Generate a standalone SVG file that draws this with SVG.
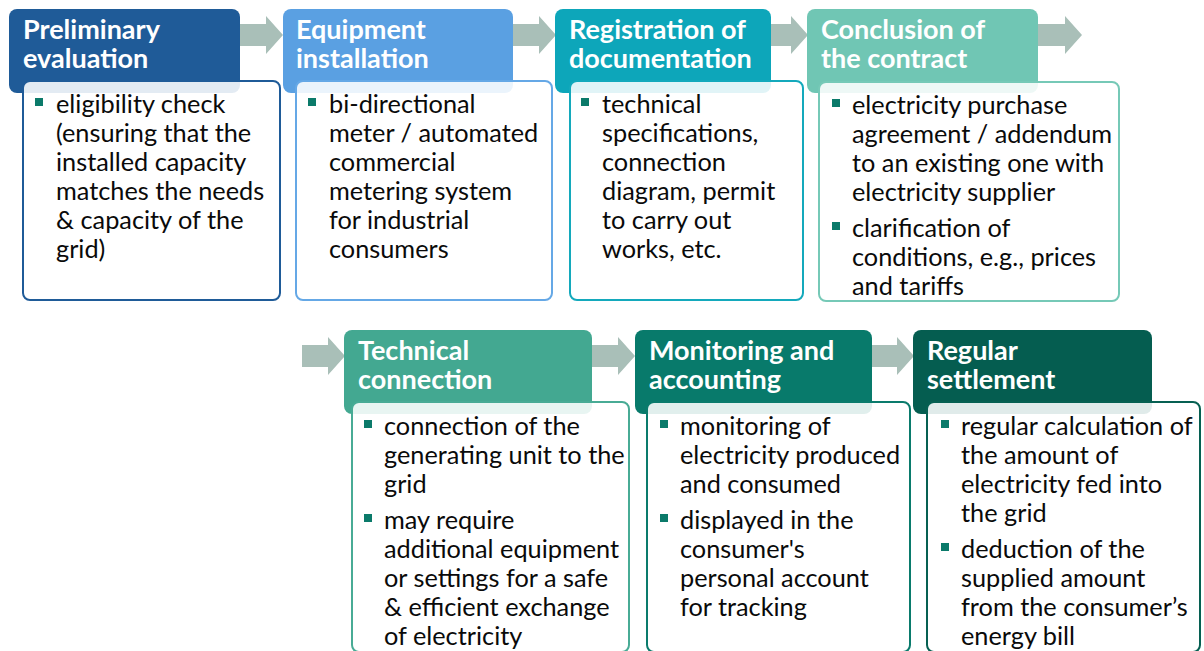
<svg xmlns="http://www.w3.org/2000/svg" width="1204" height="651" viewBox="0 0 1204 651">
  <defs>
    <style>
      .hd { stroke: none; }
      .body { fill: #ffffff; fill-opacity: 0.88; stroke-width: 2; }
      .ht { font-family: Lato, "Open Sans", sans-serif; font-weight: 700; font-size: 27px; fill: #ffffff; }
      .bt { font-family: Lato, "Open Sans", sans-serif; font-size: 25.3px; fill: #0a0a0a; }
      .bl { fill: #0b7a6a; }
      .arr { fill: #a9bfb8; }
    </style>
  </defs>
  <rect width="1204" height="651" fill="#ffffff"/>

  <!-- process arrows between the stages -->
  <g id="connectors">
    <path class="arr" d="M240 24 H266 V16 L283 35 L266 54 V46 H240 Z"/>
    <path class="arr" d="M513 24 H539 V16 L556 35 L539 54 V46 H513 Z"/>
    <path class="arr" d="M771 24 H791 V16 L808 35 L791 54 V46 H771 Z"/>
    <path class="arr" d="M1038 24 H1065 V16 L1082 35 L1065 54 V46 H1038 Z"/>
    <path class="arr" d="M302 345 H328 V337 L345 356 L328 375 V367 H302 Z"/>
    <path class="arr" d="M592 345 H618 V337 L635 356 L618 375 V367 H592 Z"/>
    <path class="arr" d="M872 345 H897 V337 L914 356 L897 375 V367 H872 Z"/>
  </g>

  <!-- stage 1 -->
  <g id="preliminary-evaluation">
    <rect class="hd" x="9" y="9" width="231" height="84" rx="8" fill="#1f5b98"/>
    <text class="ht" x="23" y="39">Preliminary</text>
    <text class="ht" x="23" y="68">evaluation</text>
    <rect class="body" x="23" y="81" width="257" height="219" rx="7" stroke="#1f5b98"/>
    <rect class="bl" x="35" y="98" width="8" height="8"/>
    <text class="bt" x="56" y="113">eligibility check</text>
    <text class="bt" x="56" y="142">(ensuring that the</text>
    <text class="bt" x="56" y="171">installed capacity</text>
    <text class="bt" x="56" y="200">matches the needs</text>
    <text class="bt" x="56" y="229">&amp; capacity of the</text>
    <text class="bt" x="56" y="258">grid)</text>
  </g>

  <!-- stage 2 -->
  <g id="equipment-installation">
    <rect class="hd" x="283" y="9" width="230" height="84" rx="8" fill="#5aa0e2"/>
    <text class="ht" x="296" y="39">Equipment</text>
    <text class="ht" x="296" y="68">installation</text>
    <rect class="body" x="296" y="81" width="256" height="219" rx="7" stroke="#65a8e6"/>
    <rect class="bl" x="308" y="98" width="8" height="8"/>
    <text class="bt" x="329" y="113">bi-directional</text>
    <text class="bt" x="329" y="142">meter / automated</text>
    <text class="bt" x="329" y="171">commercial</text>
    <text class="bt" x="329" y="200">metering system</text>
    <text class="bt" x="329" y="229">for industrial</text>
    <text class="bt" x="329" y="258">consumers</text>
  </g>

  <!-- stage 3 -->
  <g id="registration-of-documentation">
    <rect class="hd" x="555" y="9" width="216" height="84" rx="8" fill="#0da6ba"/>
    <text class="ht" x="569" y="39">Registration of</text>
    <text class="ht" x="569" y="68">documentation</text>
    <rect class="body" x="570" y="81" width="233" height="219" rx="7" stroke="#14a9bc"/>
    <rect class="bl" x="581" y="98" width="8" height="8"/>
    <text class="bt" x="602" y="113">technical</text>
    <text class="bt" x="602" y="142">specifications,</text>
    <text class="bt" x="602" y="171">connection</text>
    <text class="bt" x="602" y="200">diagram, permit</text>
    <text class="bt" x="602" y="229">to carry out</text>
    <text class="bt" x="602" y="258">works, etc.</text>
  </g>

  <!-- stage 4 -->
  <g id="conclusion-of-the-contract">
    <rect class="hd" x="807" y="9" width="231" height="84" rx="8" fill="#70c6b4"/>
    <text class="ht" x="821" y="39">Conclusion of</text>
    <text class="ht" x="821" y="68">the contract</text>
    <rect class="body" x="819" y="82" width="300" height="219" rx="7" stroke="#76c9b7"/>
    <rect class="bl" x="832" y="99" width="8" height="8"/>
    <text class="bt" x="852" y="114">electricity purchase</text>
    <text class="bt" x="852" y="143">agreement / addendum</text>
    <text class="bt" x="852" y="172">to an existing one with</text>
    <text class="bt" x="852" y="201">electricity supplier</text>
    <rect class="bl" x="832" y="222" width="8" height="8"/>
    <text class="bt" x="852" y="237">clarification of</text>
    <text class="bt" x="852" y="266">conditions, e.g., prices</text>
    <text class="bt" x="852" y="295">and tariffs</text>
  </g>

  <!-- stage 5 -->
  <g id="technical-connection">
    <rect class="hd" x="344" y="330" width="248" height="84" rx="8" fill="#43a891"/>
    <text class="ht" x="358" y="360">Technical</text>
    <text class="ht" x="358" y="389">connection</text>
    <rect class="body" x="352" y="402" width="277" height="250" rx="7" stroke="#48ab95"/>
    <rect class="bl" x="364" y="420" width="8" height="8"/>
    <text class="bt" x="384" y="435">connection of the</text>
    <text class="bt" x="384" y="464">generating unit to the</text>
    <text class="bt" x="384" y="493">grid</text>
    <rect class="bl" x="364" y="514" width="8" height="8"/>
    <text class="bt" x="384" y="529">may require</text>
    <text class="bt" x="384" y="558">additional equipment</text>
    <text class="bt" x="384" y="587">or settings for a safe</text>
    <text class="bt" x="384" y="616">&amp; efficient exchange</text>
    <text class="bt" x="384" y="645">of electricity</text>
  </g>

  <!-- stage 6 -->
  <g id="monitoring-and-accounting">
    <rect class="hd" x="635" y="330" width="237" height="84" rx="8" fill="#087a6b"/>
    <text class="ht" x="649" y="360">Monitoring and</text>
    <text class="ht" x="649" y="389">accounting</text>
    <rect class="body" x="647" y="402" width="263" height="250" rx="7" stroke="#0a7b6c"/>
    <rect class="bl" x="660" y="420" width="8" height="8"/>
    <text class="bt" x="680" y="435">monitoring of</text>
    <text class="bt" x="680" y="464">electricity produced</text>
    <text class="bt" x="680" y="493">and consumed</text>
    <rect class="bl" x="660" y="514" width="8" height="8"/>
    <text class="bt" x="680" y="529">displayed in the</text>
    <text class="bt" x="680" y="558">consumer's</text>
    <text class="bt" x="680" y="587">personal account</text>
    <text class="bt" x="680" y="616">for tracking</text>
  </g>

  <!-- stage 7 -->
  <g id="regular-settlement">
    <rect class="hd" x="913" y="330" width="239" height="84" rx="8" fill="#055d50"/>
    <text class="ht" x="927" y="360">Regular</text>
    <text class="ht" x="927" y="389">settlement</text>
    <rect class="body" x="927" y="402" width="273" height="250" rx="7" stroke="#066052"/>
    <rect class="bl" x="941" y="420" width="8" height="8"/>
    <text class="bt" x="961" y="435">regular calculation of</text>
    <text class="bt" x="961" y="464">the amount of</text>
    <text class="bt" x="961" y="493">electricity fed into</text>
    <text class="bt" x="961" y="522">the grid</text>
    <rect class="bl" x="941" y="543" width="8" height="8"/>
    <text class="bt" x="961" y="558">deduction of the</text>
    <text class="bt" x="961" y="587">supplied amount</text>
    <text class="bt" x="961" y="616">from the consumer’s</text>
    <text class="bt" x="961" y="645">energy bill</text>
  </g>
</svg>
